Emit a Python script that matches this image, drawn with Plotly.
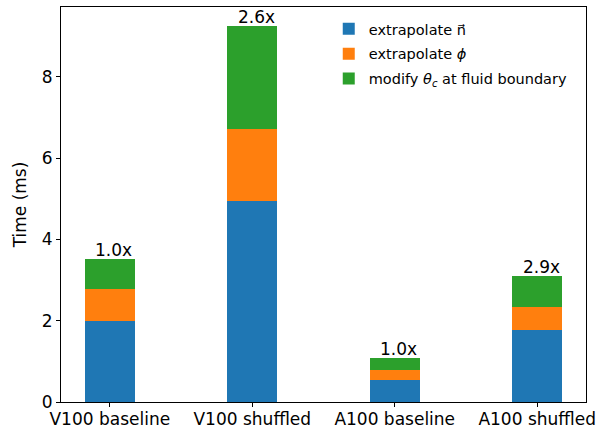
import plotly.graph_objects as go

categories = ["V100 baseline", "V100 shuffled", "A100 baseline", "A100 shuffled"]
extrapolate_n = [2.00, 4.95, 0.54, 1.78]
extrapolate_phi = [0.79, 1.76, 0.25, 0.56]
modify_theta = [0.73, 2.55, 0.29, 0.77]
speedup_labels = ["1.0x", "2.6x", "1.0x", "2.9x"]

series_names = ["extrapolate n\u20d7", "extrapolate <i>\u03d5</i>", "modify <i>\u03b8<sub>c</sub></i> at fluid boundary"]
colors = ["#1f77b4", "#ff7f0e", "#2ca02c"]

x = list(range(len(categories)))
fig = go.Figure()
for i, (name, vals, c) in enumerate(zip(series_names, [extrapolate_n, extrapolate_phi, modify_theta], colors)):
    fig.add_trace(go.Bar(x=x, y=vals, name=name, legendgroup=f"g{i}",
                         marker=dict(color=c, line=dict(width=0)), width=0.35))

totals = [a + b + c for a, b, c in zip(extrapolate_n, extrapolate_phi, modify_theta)]
for xi, t, lab in zip(x, totals, speedup_labels):
    fig.add_annotation(x=xi, y=t, text=lab, showarrow=False, yanchor="bottom", xanchor="center",
                       xshift=4, yshift=-3, font=dict(size=17, color="black"))

fig.update_layout(
    barmode="stack",
    width=596, height=428,
    margin=dict(l=61, r=10, t=7, b=26),
    paper_bgcolor="white", plot_bgcolor="white",
    font=dict(family="DejaVu Sans", size=17, color="black"),
    bargap=0,
    legend=dict(x=0.51, y=0.985, xanchor="left", yanchor="top", font=dict(size=14.5),
                bgcolor="rgba(255,255,255,0)", traceorder="grouped", tracegroupgap=3, itemwidth=30),
    showlegend=True,
)
fig.update_xaxes(range=[-0.3425, 3.3425], tickvals=x, ticktext=categories, showline=True, mirror=True,
                 linecolor="black", linewidth=1, ticks="outside", ticklen=4, tickcolor="black",
                 showgrid=False, zeroline=False, tickfont=dict(size=17), automargin=False,
                 ticklabelstandoff=-2)
fig.update_yaxes(range=[0, 9.72], tickvals=[0, 2, 4, 6, 8], showline=True, mirror=True,
                 linecolor="black", linewidth=1, ticks="outside", ticklen=4, tickcolor="black",
                 showgrid=False, zeroline=False, automargin=False,
                 title=dict(text="Time (ms)", font=dict(size=17), standoff=10),
                 tickfont=dict(size=17))

fig.write_html("out.html")
